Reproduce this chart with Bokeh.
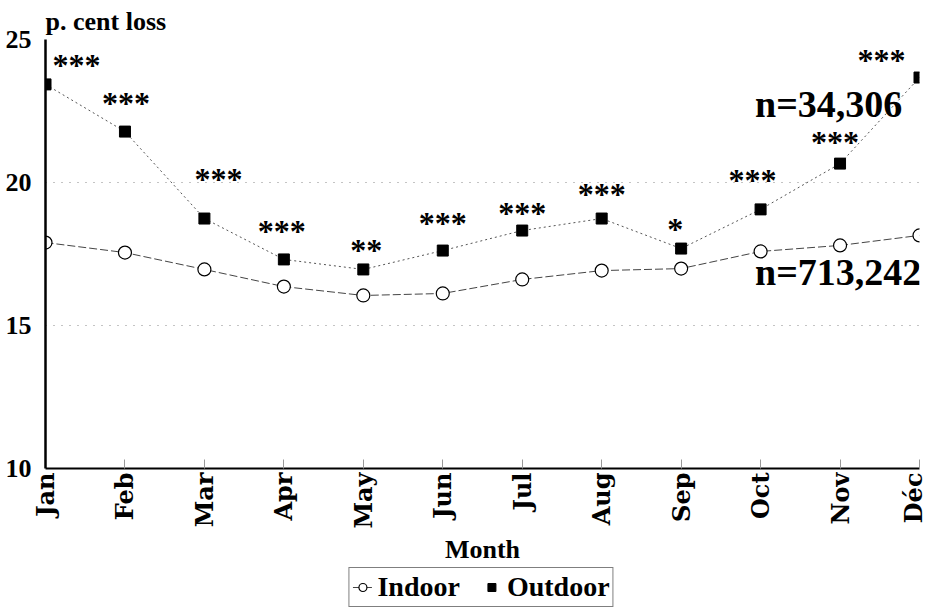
import math
from bokeh.plotting import figure
from bokeh.layouts import column
from bokeh.models import ColumnDataSource, FixedTicker, Legend, LegendItem, Label
from bokeh.core.properties import value
from bokeh.embed import file_html
from bokeh.resources import INLINE

months = ["Jan", "Feb", "Mar", "Apr", "May", "Jun", "Jul", "Aug", "Sep", "Oct", "Nov", "Déc"]
indoor = [17.90, 17.55, 16.96, 16.36, 16.05, 16.12, 16.61, 16.92, 16.99, 17.59, 17.80, 18.15]
outdoor = [23.43, 21.78, 18.74, 17.31, 16.96, 17.62, 18.32, 18.74, 17.69, 19.06, 20.66, 23.67]
signif = ["***", "***", "***", "***", "**", "***", "***", "***", "*", "***", "***", "***"]
y_ticks = [10, 15, 20, 25]
n_indoor = "n=713,242"
n_outdoor = "n=34,306"
series = ["Indoor", "Outdoor"]

# label offsets in screen pixels (style)
star_dx = [31, 1, 14, -2, 3, 0, 0, 0, -6, -8, -5, -38]
star_dy = [-19, -29, -40, -28, -19, -28, -18, -25, -20, -29, -22, -18]

SERIF = "Liberation Serif"
xs = list(range(len(months)))

p = figure(frame_width=874, frame_height=429, x_range=(0, 11), y_range=(10, 25),
           output_backend="svg", toolbar_location=None,
           min_border_left=45, min_border_right=8, min_border_top=33, min_border_bottom=0)
p.outline_line_color = None
p.background_fill_color = "white"

p.title.text = "p. cent loss"
p.title.text_font = SERIF
p.title.text_font_size = "26px"
p.title.text_font_style = "bold"
p.title.text_color = "black"
p.title.align = "left"
p.title.offset = 0
p.title.standoff = 8

# axes
p.yaxis.ticker = FixedTicker(ticks=y_ticks)
p.yaxis.major_label_text_font = SERIF
p.yaxis.major_label_text_font_size = "26px"
p.yaxis.major_label_text_font_style = "bold"
p.yaxis.major_label_text_color = "black"
p.yaxis.major_tick_out = 0
p.yaxis.major_tick_in = 0
p.yaxis.minor_tick_line_color = None
p.yaxis.axis_line_width = 2.5
p.yaxis.axis_line_color = "black"
p.yaxis.major_label_standoff = 14

p.xaxis.ticker = FixedTicker(ticks=xs)
p.xaxis.major_label_overrides = {i: m for i, m in enumerate(months)}
p.xaxis.major_label_orientation = math.pi / 2
p.xaxis.major_label_text_font = "DejaVu Serif"
p.xaxis.major_label_text_font_size = "24px"
p.xaxis.major_label_text_font_style = "bold"
p.xaxis.major_label_text_color = "black"
p.xaxis.major_tick_out = 0
p.xaxis.major_tick_in = 9
p.xaxis.major_tick_line_color = "#999999"
p.xaxis.minor_tick_line_color = None
p.xaxis.axis_line_width = 2
p.xaxis.axis_line_color = "black"
p.xaxis.major_label_standoff = 4
p.xaxis.axis_label = "Month"
p.xaxis.axis_label_text_font = SERIF
p.xaxis.axis_label_text_font_size = "26px"
p.xaxis.axis_label_text_font_style = "bold"
p.xaxis.axis_label_text_color = "black"
p.xaxis.axis_label_standoff = 3

p.xgrid.grid_line_color = None
p.ygrid.ticker = FixedTicker(ticks=[15, 20])
p.ygrid.grid_line_color = "#888888"
p.ygrid.grid_line_dash = "1 7"
p.ygrid.grid_line_width = 1

src = ColumnDataSource(dict(x=xs, indoor=indoor, outdoor=outdoor, stars=signif,
                            dx=star_dx, dy=star_dy))

IN_LINE = dict(line_color="#444444", line_width=1, line_dash="8 3")
IN_MARK = dict(marker="circle", size=13, fill_color="white", line_color="black", line_width=1.2)
OUT_LINE = dict(line_color="#555555", line_width=1, line_dash="2 3")
OUT_MARK = dict(marker="square", size=11, fill_color="black", line_color="black")

p.line("x", "indoor", source=src, **IN_LINE)
p.scatter("x", "indoor", source=src, **IN_MARK)
p.line("x", "outdoor", source=src, **OUT_LINE)
p.scatter("x", "outdoor", source=src, **OUT_MARK)

p.text("x", "outdoor", text="stars", source=src, x_offset="dx", y_offset="dy",
       text_font=value(SERIF), text_font_size="32px", text_font_style="bold",
       text_align="center", text_baseline="middle", text_color="black")

p.add_layout(Label(x=8.93, y=22.75, text=n_outdoor, text_font=SERIF, text_font_size="38px",
                   text_font_style="bold", text_baseline="middle", text_align="left",
                   text_color="black"))
p.add_layout(Label(x=8.93, y=16.86, text=n_indoor, text_font=SERIF, text_font_size="38px",
                   text_font_style="bold", text_baseline="middle", text_align="left",
                   text_color="black"))

# legend strip below the chart
lg = figure(width=925, height=42, x_range=(0, 1), y_range=(0, 1),
            output_backend="svg", toolbar_location=None,
            x_axis_type=None, y_axis_type=None,
            min_border_left=0, min_border_right=0, min_border_top=0, min_border_bottom=0)
lg.outline_line_color = None
lg.xgrid.grid_line_color = None
lg.ygrid.grid_line_color = None
nan = float("nan")
r_in_l = lg.line([nan], [nan], **IN_LINE)
r_in_m = lg.scatter([nan], [nan], **IN_MARK)
r_out_m = lg.scatter([nan], [nan], **OUT_MARK)

legend = Legend(items=[LegendItem(label=series[0], renderers=[r_in_l, r_in_m]),
                       LegendItem(label=series[1], renderers=[r_out_m])],
                orientation="horizontal", location="center")
legend.label_text_font = SERIF
legend.label_text_font_size = "28px"
legend.label_text_font_style = "bold"
legend.label_text_color = "black"
legend.border_line_color = "black"
legend.border_line_width = 1.5
legend.background_fill_alpha = 0
legend.glyph_width = 20
legend.glyph_height = 24
legend.label_standoff = 5
legend.spacing = 22
legend.padding = 3
legend.margin = 0
legend.label_height = 26
lg.add_layout(legend, "center")

layout = column(p, lg, spacing=0)
open("out.html", "w").write(file_html(layout, INLINE))
